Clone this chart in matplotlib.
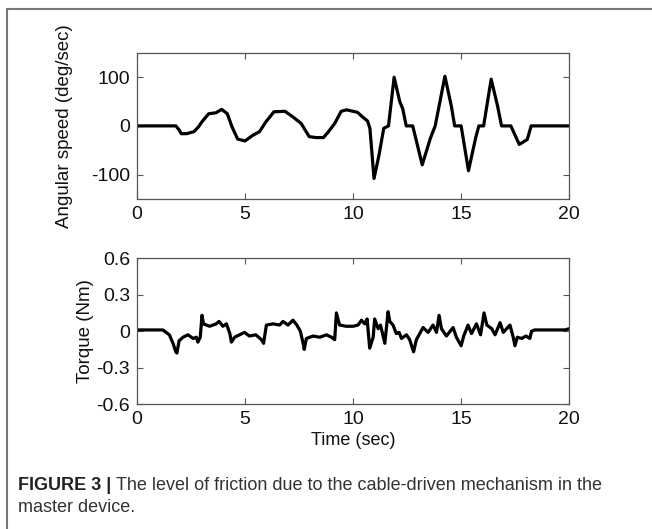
import matplotlib.pyplot as plt
from matplotlib.lines import Line2D

# angular speed trace (deg/sec)
t_speed = [0, 1.8, 1.95, 2.05, 2.3, 2.63, 2.85, 3.0, 3.32, 3.66, 3.92, 4.18, 4.4,
           4.66, 5.0, 5.37, 5.67, 5.96, 6.34, 6.85, 7.23, 7.6, 7.97, 8.3, 8.63,
           8.86, 9.15, 9.45, 9.7, 10.0, 10.2, 10.45, 10.67, 10.78, 10.97, 11.2,
           11.42, 11.64, 11.9, 12.16, 12.3, 12.46, 12.76, 13.2, 13.58, 13.8,
           14.25, 14.55, 14.7, 15.0, 15.34, 15.67, 15.82, 16.04, 16.39, 16.69,
           16.87, 17.3, 17.69, 18.06, 18.24, 20]
speed = [0, 0, -8, -16, -16, -12, -2, 8, 25, 27, 34, 25, -2,
         -27, -31, -19, -12, 8, 29, 30, 18, 5, -22, -24, -24,
         -12, 5, 30, 33, 30, 28, 18, 10, -5, -108, -60,
         -5, 0, 100, 50, 35, 0, 0, -80, -25, 0,
         102, 40, 0, 0, -92, -25, 0, 0, 96, 40,
         0, 0, -38, -28, 0, 0]

# torque trace (Nm)
t_torque = [0, 1.2, 1.5, 1.67, 1.8, 1.85, 1.95, 2.13, 2.36, 2.6, 2.75, 2.82, 2.93,
            3.01, 3.08, 3.36, 3.67, 3.8, 3.98, 4.14, 4.3, 4.37, 4.52, 4.75, 4.98,
            5.2, 5.5, 5.76, 5.86, 5.99, 6.3, 6.6, 6.76, 6.99, 7.22, 7.4, 7.56,
            7.69, 7.74, 7.84, 8.15, 8.46, 8.77, 9.0, 9.15, 9.23, 9.3, 9.38, 9.69,
            10.0, 10.23, 10.39, 10.54, 10.65, 10.77, 10.93, 11.0, 11.16, 11.27,
            11.47, 11.62, 11.7, 11.85, 12.0, 12.13, 12.24, 12.47, 12.62, 12.8,
            12.93, 13.24, 13.47, 13.7, 13.86, 13.98, 14.09, 14.32, 14.63, 14.78,
            15.0, 15.12, 15.32, 15.48, 15.71, 15.9, 16.06, 16.19, 16.42, 16.57,
            16.8, 16.95, 17.26, 17.41, 17.49, 17.6, 17.8, 18.0, 18.18, 18.26,
            18.4, 19.8, 20]
torque = [0.01, 0.01, -0.03, -0.1, -0.17, -0.18, -0.08, -0.05, -0.03, -0.06, -0.05, -0.09, -0.05,
          0.13, 0.06, 0.04, 0.06, 0.08, 0.04, 0.06, -0.02, -0.09, -0.05, -0.03, -0.01,
          -0.04, -0.03, -0.07, -0.1, 0.05, 0.06, 0.05, 0.08, 0.05, 0.09, 0.05, 0.0,
          -0.1, -0.15, -0.06, -0.04, -0.05, -0.03, -0.05, -0.07, 0.15, 0.1, 0.05, 0.04,
          0.04, 0.05, 0.09, 0.06, 0.1, -0.14, -0.05, 0.1, 0.02, 0.05,
          -0.1, 0.16, 0.08, 0.05, -0.02, -0.01, -0.06, -0.03, -0.07, -0.17,
          -0.07, 0.03, -0.01, 0.05, -0.01, 0.13, 0.02, -0.04, 0.03, -0.05,
          -0.12, -0.04, 0.05, -0.02, 0.06, -0.03, 0.15, 0.05, 0.02, -0.03,
          0.07, -0.01, 0.05, -0.05, -0.12, -0.05, -0.06, -0.04, -0.06, 0.0,
          0.01, 0.01, 0.02]

plt.rcParams['font.family'] = ['Liberation Sans', 'DejaVu Sans']
plt.rcParams['axes.unicode_minus'] = False

fig = plt.figure(figsize=(6.52, 5.29), dpi=100)

def style(ax):
    for s in ax.spines.values():
        s.set_color('#555555')
        s.set_linewidth(0.9)
    ax.tick_params(direction='in', top=True, right=True, length=4,
                   width=0.8, color='#555555', labelsize=14, pad=5,
                   labelcolor='#111111')
    ax.set_xlim(0, 20)
    ax.set_xticks([0, 5, 10, 15, 20])

ax1 = fig.add_axes([0.210, 0.624, 0.663, 0.276])
ax1.plot(t_speed, speed, color='black', lw=2.3)
style(ax1)
ax1.set_ylim(-150, 150)
ax1.set_yticks([-100, 0, 100])
ax1.set_ylabel('Angular speed (deg/sec)', fontsize=13.5, color='#111111')
ax1.yaxis.set_label_coords(-0.148, 0.5)

ax2 = fig.add_axes([0.210, 0.236, 0.663, 0.276])
ax2.plot(t_torque, torque, color='black', lw=2.3)
style(ax2)
ax2.set_ylim(-0.6, 0.6)
ax2.set_yticks([-0.6, -0.3, 0, 0.3, 0.6])
ax2.set_yticklabels(['-0.6', '-0.3', '0', '0.3', '0.6'])
ax2.set_ylabel('Torque (Nm)', fontsize=13.5, color='#111111')
ax2.yaxis.set_label_coords(-0.099, 0.5)
ax2.set_xlabel('Time (sec)', fontsize=13, labelpad=3, color='#111111')

# page frame (top and left edges only)
fig.add_artist(Line2D([7 / 652, 7 / 652], [0, 1 - 9 / 529], color='#777777', lw=1.5))
fig.add_artist(Line2D([7 / 652, 1], [1 - 9 / 529, 1 - 9 / 529], color='#777777', lw=1.5))

# caption
cap_y = 1 - 485 / 529
bold = fig.text(18 / 652, cap_y, 'FIGURE 3 |', fontsize=13, fontweight='bold',
                color='#222222', va='center')
fig.canvas.draw()
bb = bold.get_window_extent()
fig.text((bb.x1 + 5) / 652, cap_y,
         'The level of friction due to the cable-driven mechanism in the',
         fontsize=13, color='#333333', va='center')
fig.text(18 / 652, 1 - 508 / 529, 'master device.', fontsize=13,
         color='#333333', va='center')

fig.savefig('out.png', dpi=100)
